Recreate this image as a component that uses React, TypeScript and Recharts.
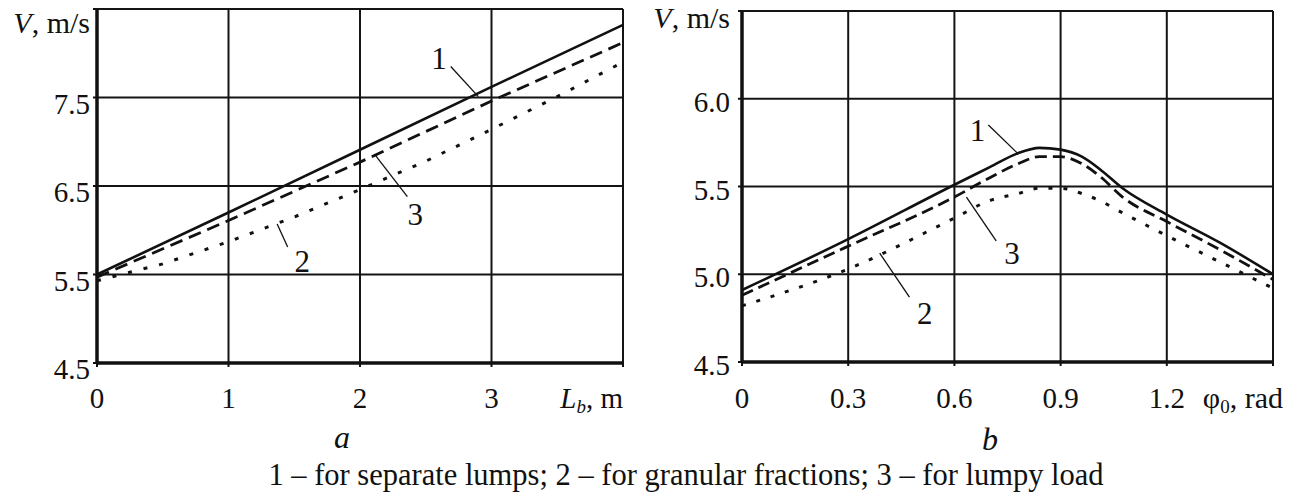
import React from "react";
import { LineChart, Line, XAxis, YAxis, CartesianGrid, ReferenceLine, ReferenceDot } from "recharts";

const FONT = '"Liberation Serif", "Times New Roman", serif';
const INK = "#111";

// ---- Chart a: V vs L_b ----
const lbTicks = [0, 1, 2, 3, 4];
const vTicksA = [4.5, 5.5, 6.5, 7.5, 8.5];
const sepLumpsAX = [0, 1, 2, 3, 4];
const sepLumpsA = [5.5, 6.2, 6.91, 7.62, 8.32];
const lumpyLoadAX = [0, 1, 2, 3, 4];
const lumpyLoadA = [5.47, 6.11, 6.77, 7.46, 8.12];
const granularAX = [0, 0.5, 1, 1.5, 2, 2.5, 3, 3.5, 4];
const granularA = [5.43, 5.62, 5.87, 6.15, 6.46, 6.78, 7.14, 7.51, 7.9];

// ---- Chart b: V vs phi0 ----
const phiTicks = [0, 0.3, 0.6, 0.9, 1.2, 1.5];
const vTicksB = [4.5, 5.0, 5.5, 6.0, 6.5];
const sepLumpsBX = [0, 0.3, 0.6, 0.7, 0.78, 0.84, 0.9, 0.96, 1.01, 1.075, 1.2, 1.35, 1.5];
const sepLumpsB = [4.91, 5.2, 5.51, 5.61, 5.69, 5.72, 5.71, 5.67, 5.6, 5.49, 5.34, 5.18, 5.0];
const lumpyLoadBX = [0, 0.3, 0.6, 0.7, 0.78, 0.84, 0.9, 0.96, 1.01, 1.075, 1.2, 1.35, 1.5];
const lumpyLoadB = [4.88, 5.16, 5.44, 5.55, 5.63, 5.67, 5.67, 5.63, 5.56, 5.44, 5.3, 5.14, 4.97];
const granularBX = [0, 0.3, 0.6, 0.7, 0.78, 0.84, 0.9, 0.96, 1.01, 1.075, 1.2, 1.35, 1.5];
const granularB = [4.82, 5.03, 5.32, 5.42, 5.46, 5.49, 5.49, 5.46, 5.42, 5.35, 5.22, 5.07, 4.92];

const captionA = "a";
const captionB = "b";
const legendText = "1 \u2013 for separate lumps; 2 \u2013 for granular fractions; 3 \u2013 for lumpy load";

const zip = (xs: number[], ys: number[]) => xs.map((x, i) => ({ x, v: ys[i] }));

const textStyle = { fontFamily: FONT, fontSize: 29, fill: INK };

function YTickA(p: any) {
  const { x, y, payload } = p;
  if (payload.value === 8.5) {
    return (
      <text x={x} y={y + 24} textAnchor="end" style={{ ...textStyle, fontSize: 30 }}>
        <tspan fontStyle="italic">V</tspan>
        <tspan>, m/s</tspan>
      </text>
    );
  }
  return (
    <text x={x} y={y + 6} dy="0.35em" textAnchor="end" style={textStyle}>
      {payload.value.toFixed(1)}
    </text>
  );
}

function XTickA(p: any) {
  const { x, y, payload } = p;
  if (payload.value === 4) {
    return (
      <text x={x} y={y} dy="0.71em" textAnchor="end" style={textStyle}>
        <tspan fontStyle="italic">L</tspan>
        <tspan fontStyle="italic" fontSize={19} dy={5}>b</tspan>
        <tspan dy={-5}>, m</tspan>
      </text>
    );
  }
  return (
    <text x={x} y={y} dy="0.71em" textAnchor="middle" style={textStyle}>
      {String(payload.value)}
    </text>
  );
}

function YTickB(p: any) {
  const { x, y, payload } = p;
  if (payload.value === 6.5) {
    return (
      <text x={x} y={y + 17} textAnchor="end" style={{ ...textStyle, fontSize: 30 }}>
        <tspan fontStyle="italic">V</tspan>
        <tspan>, m/s</tspan>
      </text>
    );
  }
  return (
    <text x={x} y={y + 3} dy="0.35em" textAnchor="end" style={textStyle}>
      {payload.value.toFixed(1)}
    </text>
  );
}

function XTickB(p: any) {
  const { x, y, payload } = p;
  if (payload.value === 1.5) {
    return (
      <text x={x + 10} y={y} dy="0.71em" textAnchor="end" style={{ ...textStyle, fontSize: 30 }}>
        <tspan>{"\u03c6"}</tspan>
        <tspan fontSize={19} dy={5}>0</tspan>
        <tspan dy={-5}>, rad</tspan>
      </text>
    );
  }
  return (
    <text x={x} y={y} dy="0.71em" textAnchor="middle" style={textStyle}>
      {payload.value === 0 ? "0" : payload.value.toFixed(1)}
    </text>
  );
}

const numLabel = (t: string) => (p: any) => (
  <text x={p.cx} y={p.cy} dy="0.35em" textAnchor="middle" style={{ fontFamily: FONT, fontSize: 31, fill: INK }}>
    {t}
  </text>
);

const GRID = "#141414";

export default function App() {
  return (
    <div style={{ position: "absolute", left: 0, top: 0, width: 1298, height: 498, background: "#fff", fontFamily: FONT, color: INK }}>
      <div style={{ position: "absolute", left: 0, top: 0 }}>
        <LineChart width={660} height={420} margin={{ top: 9, right: 37, bottom: 0, left: 0 }}>
          <CartesianGrid stroke={GRID} strokeWidth={2} />
          <XAxis
            type="number"
            dataKey="x"
            domain={[0, 4]}
            ticks={lbTicks}
            interval={0}
            height={57}
            tickSize={4}
            tickMargin={20}
            axisLine={{ stroke: INK, strokeWidth: 3.5 }}
            tickLine={{ stroke: INK, strokeWidth: 2 }}
            tick={(p: any) => <XTickA {...p} />}
          />
          <YAxis
            type="number"
            domain={[4.5, 8.5]}
            ticks={vTicksA}
            interval={0}
            width={97}
            tickSize={4}
            tickMargin={3}
            axisLine={{ stroke: INK, strokeWidth: 3.5 }}
            tickLine={{ stroke: INK, strokeWidth: 2 }}
            tick={(p: any) => <YTickA {...p} />}
          />
          <Line data={zip(sepLumpsAX, sepLumpsA)} dataKey="v" type="linear" stroke={INK} strokeWidth={2.6} dot={false} activeDot={false} isAnimationActive={false} />
          <Line data={zip(lumpyLoadAX, lumpyLoadA)} dataKey="v" type="linear" stroke={INK} strokeWidth={2.8} strokeDasharray="13 7" dot={false} activeDot={false} isAnimationActive={false} />
          <Line data={zip(granularAX, granularA)} dataKey="v" type="linear" stroke={INK} strokeWidth={3} strokeDasharray="4 12" dot={false} activeDot={false} isAnimationActive={false} />
          <ReferenceLine segment={[{ x: 2.69, y: 7.85 }, { x: 2.9, y: 7.51 }]} stroke={INK} strokeWidth={1.3} ifOverflow="visible" />
          <ReferenceDot x={2.6} y={7.95} r={0} shape={numLabel("1")} ifOverflow="visible" />
          <ReferenceLine segment={[{ x: 2.11, y: 6.86 }, { x: 2.36, y: 6.38 }]} stroke={INK} strokeWidth={1.3} ifOverflow="visible" />
          <ReferenceDot x={2.42} y={6.18} r={0} shape={numLabel("3")} ifOverflow="visible" />
          <ReferenceLine segment={[{ x: 1.37, y: 6.07 }, { x: 1.45, y: 5.81 }]} stroke={INK} strokeWidth={1.3} ifOverflow="visible" />
          <ReferenceDot x={1.56} y={5.65} r={0} shape={numLabel("2")} ifOverflow="visible" />
        </LineChart>
      </div>
      <div style={{ position: "absolute", left: 640, top: 0 }}>
        <LineChart width={658} height={420} margin={{ top: 11, right: 25, bottom: 0, left: 0 }}>
          <CartesianGrid stroke={GRID} strokeWidth={2} />
          <XAxis
            type="number"
            dataKey="x"
            domain={[0, 1.5]}
            ticks={phiTicks}
            interval={0}
            height={58}
            tickSize={4}
            tickMargin={21}
            axisLine={{ stroke: INK, strokeWidth: 3.5 }}
            tickLine={{ stroke: INK, strokeWidth: 2 }}
            tick={(p: any) => <XTickB {...p} />}
          />
          <YAxis
            type="number"
            domain={[4.5, 6.5]}
            ticks={vTicksB}
            interval={0}
            width={102}
            tickSize={4}
            tickMargin={8}
            axisLine={{ stroke: INK, strokeWidth: 3.5 }}
            tickLine={{ stroke: INK, strokeWidth: 2 }}
            tick={(p: any) => <YTickB {...p} />}
          />
          <Line data={zip(sepLumpsBX, sepLumpsB)} dataKey="v" type="monotone" stroke={INK} strokeWidth={2.6} dot={false} activeDot={false} isAnimationActive={false} />
          <Line data={zip(lumpyLoadBX, lumpyLoadB)} dataKey="v" type="monotone" stroke={INK} strokeWidth={2.8} strokeDasharray="12 6" dot={false} activeDot={false} isAnimationActive={false} />
          <Line data={zip(granularBX, granularB)} dataKey="v" type="monotone" stroke={INK} strokeWidth={3} strokeDasharray="4 11" dot={false} activeDot={false} isAnimationActive={false} />
          <ReferenceLine segment={[{ x: 0.696, y: 5.85 }, { x: 0.778, y: 5.69 }]} stroke={INK} strokeWidth={1.3} ifOverflow="visible" />
          <ReferenceDot x={0.665} y={5.82} r={0} shape={numLabel("1")} ifOverflow="visible" />
          <ReferenceLine segment={[{ x: 0.634, y: 5.44 }, { x: 0.718, y: 5.19 }]} stroke={INK} strokeWidth={1.3} ifOverflow="visible" />
          <ReferenceDot x={0.763} y={5.12} r={0} shape={numLabel("3")} ifOverflow="visible" />
          <ReferenceLine segment={[{ x: 0.389, y: 5.12 }, { x: 0.473, y: 4.87 }]} stroke={INK} strokeWidth={1.3} ifOverflow="visible" />
          <ReferenceDot x={0.516} y={4.78} r={0} shape={numLabel("2")} ifOverflow="visible" />
        </LineChart>
      </div>
      <div style={{ position: "absolute", left: 292, top: 421, width: 100, textAlign: "center", fontSize: 32, lineHeight: "32px", fontStyle: "italic", whiteSpace: "nowrap" }}>
        {captionA}
      </div>
      <div style={{ position: "absolute", left: 940, top: 423, width: 100, textAlign: "center", fontSize: 32, lineHeight: "32px", fontStyle: "italic", whiteSpace: "nowrap" }}>
        {captionB}
      </div>
      <div style={{ position: "absolute", left: 186, top: 460, width: 1000, textAlign: "center", fontSize: 30.5, lineHeight: "30px", whiteSpace: "nowrap" }}>
        {legendText}
      </div>
    </div>
  );
}
